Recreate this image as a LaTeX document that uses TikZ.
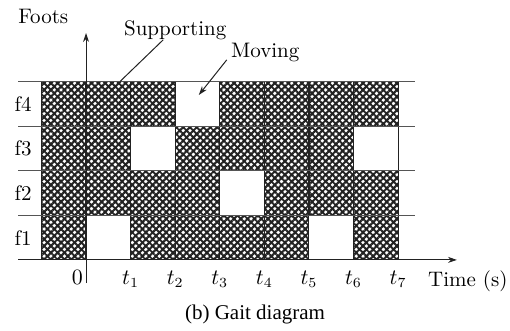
\documentclass[tikz,border=0pt]{standalone}
\usepackage{fontspec}
\setmainfont{Latin Modern Roman}
\usetikzlibrary{arrows.meta,patterns.meta}
\newfontfamily\capfont{Liberation Serif}
\definecolor{ink}{HTML}{222222}
\definecolor{gridgray}{HTML}{555555}

\tikzset{
  hatched/.style={
    preaction={fill=white},
    preaction={pattern={Lines[angle=45,distance=2.4pt,line width=1.05pt]},pattern color=ink},
    pattern={Lines[angle=-45,distance=2.4pt,line width=0.95pt]},pattern color=ink},
  freecell/.style={fill=white,draw=ink,line width=0.5pt},
  gridline/.style={gridgray,line width=0.5pt},
  axisline/.style={ink,line width=0.5pt,-{Stealth[length=4.5pt,width=3pt]}},
  lbl/.style={font=\fontsize{10.5}{12}\selectfont,inner sep=1pt},
}

\begin{document}
\begin{tikzpicture}[x=22.3pt,y=22.3pt]
    % bbox matching the reference margins
    \useasboundingbox (-1.93,-1.59) rectangle (9.51,5.83);

    % supporting phases: hatch the whole block, then cut out the moving cells
    \path[hatched] (-1,0) rectangle (7,4);
    \foreach \x in {-1,...,7}
      \draw[ink,line width=0.6pt] (\x,0) -- (\x,4);
    \foreach \c/\r in {2/3,1/2,6/2,3/1,0/0,5/0}
      \draw[freecell] (\c,\r) rectangle (\c+1,\r+1);

    % horizontal foot lines
    \foreach \r in {1,...,4}
      \draw[gridline] (-1.52,\r) -- (7.38,\r);

    % axes
    \draw[axisline] (-1.52,0) -- (8.32,0);
    \draw[axisline] (0,-0.52) -- (0,5.09);

    % axis titles
    \node[lbl] (foots) at (-0.96,5.45) {Foots};
    \node[lbl,anchor=base west] (time) at (7.62,-0.6) {Time (s)};

    % foot labels
    \foreach \r in {1,...,4}
      \node[lbl] (f\r) at (-1.41,\r-0.5) {f\r};

    % time ticks
    \node[lbl,anchor=base east] (t0) at (-0.02,-0.55) {$0$};
    \foreach \i in {1,...,7}
      \node[lbl,anchor=base] (t\i) at (\i,-0.55) {$t_\i$};

    % annotations
    \node[lbl] (sup) at (2.0,5.16) {Supporting};
    \coordinate (suptip) at (0.76,4);
    \draw[ink,line width=0.5pt] ([xshift=-6pt,yshift=1pt]sup.south) -- (suptip);

    \node[lbl] (mov) at (4.02,4.66) {Moving};
    \coordinate (movtip) at (2.53,3.70);
    \draw[ink,line width=0.5pt,-{Stealth[length=4.5pt,width=3pt]}] ([xshift=-1pt,yshift=2pt]mov.south west) -- (movtip);

    % caption
    \node (cap) at (3.79,-1.23) {\capfont\fontsize{10.5}{12}\selectfont (b) Gait diagram};
\end{tikzpicture}
\end{document}
